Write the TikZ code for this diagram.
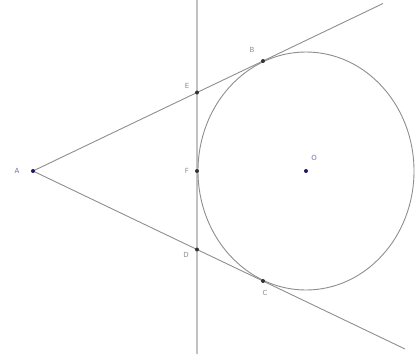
\documentclass[tikz,border=0pt]{standalone}
\usepackage{fontspec}
\setmainfont{DejaVu Sans}
\definecolor{lngray}{HTML}{8E8E8E}
\definecolor{vtgray}{HTML}{C2C2C2}
\definecolor{ptnavy}{HTML}{1A1A5E}
\definecolor{lblblue}{HTML}{7070B0}
\definecolor{lblgray}{HTML}{8C8C8C}

\tikzset{
  pt/.style={circle, fill=#1, inner sep=0pt, minimum size=4pt},
  ptlabel/.style={text=#1, font=\fontsize{7}{7}\selectfont, inner sep=0pt}
}

\begin{document}
\begin{tikzpicture}[x=1pt, y=-1pt, line width=0.9pt]

% Background
\useasboundingbox (0,0) rectangle (419,354);

% Points
\coordinate (A) at (33,171);
\coordinate (O) at (306,171);
\coordinate (B) at (263,61);
\coordinate (C) at (263,281);
\coordinate (E) at (197,92.5);
\coordinate (F) at (197,171);
\coordinate (D) at (197,249.5);
\coordinate (up) at (383,3.5);
\coordinate (dn) at (405,349);
\coordinate (vtop) at (197,0);
\coordinate (vbot) at (197,354);

% Tangent line at F
\draw[vtgray, line width=2.4pt] (vtop) -- (vbot);

% Circle
\draw[lngray] (O) ellipse [x radius=108, y radius=119];

% Tangents from A
\draw[lngray] (A) -- (E) -- (B) -- (up);
\draw[lngray] (A) -- (D) -- (C) -- (dn);

% Markers
\node[pt=ptnavy] at (A) {};
\node[pt=ptnavy] at (O) {};
\foreach \p in {B,C,D,E,F}
  \node[pt=black!80] at (\p) {};

% Labels
\node[ptlabel=lblblue] (lA) at (17,171) {A};
\node[ptlabel=lblblue] (lO) at (314,158) {O};
\node[ptlabel=lblgray] (lB) at (252,50) {B};
\node[ptlabel=lblgray] (lE) at (187,86) {E};
\node[ptlabel=lblgray] (lF) at (187,171) {F};
\node[ptlabel=lblgray] (lD) at (186,255) {D};
\node[ptlabel=lblgray] (lC) at (265,293) {C};

\end{tikzpicture}
\end{document}
